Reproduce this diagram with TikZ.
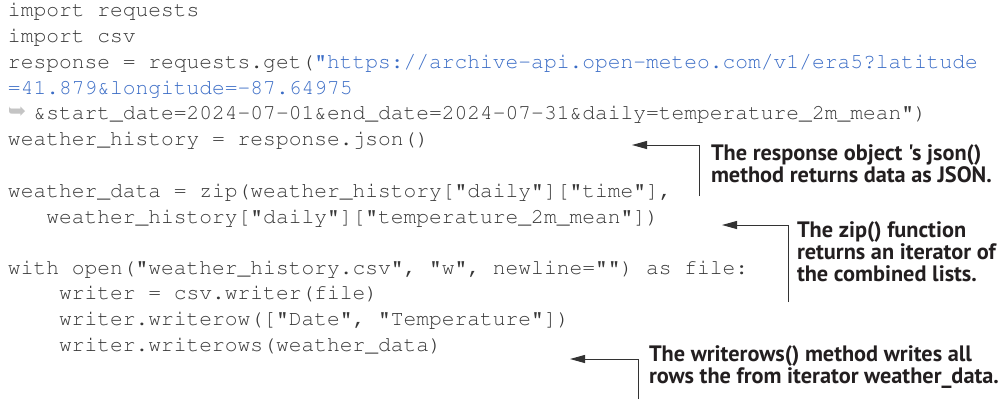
\documentclass[tikz,border=0pt]{standalone}
\usepackage[T1,TU]{fontenc}
\usepackage{fontspec}
\newfontfamily\annfont{PT Sans}
\newfontfamily\symfont{DejaVu Sans}
\usetikzlibrary{arrows.meta}
\definecolor{codegray}{HTML}{383838}
\definecolor{urlblue}{HTML}{3A6CC6}
\definecolor{anntext}{HTML}{231F20}
\definecolor{arrowgray}{HTML}{333333}
\definecolor{contgray}{HTML}{C4C4C4}
\newcommand{\codefont}{\fontencoding{T1}\fontfamily{pcr}\fontseries{m}\fontshape{n}\fontsize{21.27}{25.85}\selectfont\frenchspacing}
\tikzset{
  codeline/.style={anchor=base west, inner sep=0pt, outer sep=0pt, text=codegray, font=\codefont},
  annline/.style={anchor=base west, inner sep=0pt, outer sep=0pt, text=anntext, font=\annfont\bfseries\fontsize{22.3}{22}\selectfont},
  contmark/.style={anchor=base west, inner sep=0pt, outer sep=0pt, text=contgray, font=\symfont\fontsize{22}{22}\selectfont},
  callout/.style={draw=arrowgray, line width=1pt, -{Triangle[length=15pt,width=8pt]}}
}
\begin{document}
\begin{tikzpicture}[x=1pt,y=-1pt]
\fill[white] (0,0) rectangle (1006,413);
\useasboundingbox (0,0) rectangle (1006,413);
% code
\node[codeline] (l1) at (8,16.5) {import requests};
\node[codeline] (l2) at (8,42.35) {import csv};
\node[codeline] (l3) at (8,68.2) {response = requests.get({\color{urlblue}"https://archive-api.open-meteo.com/v1/era5?latitude}};
\node[codeline, text=urlblue] (l4) at (8,94.05) {=41.879\&longitude=-87.64975};
\node[contmark] (l5m) at (8,118.5) {➥};
\node[codeline] (l5) at ({8+2*12.762},119.9) {\&start\_date=2024-07-01\&end\_date=2024-07-31\&daily=temperature\_2m\_mean")};
\node[codeline] (l6) at (8,145.75) {weather\_history = response.json()};
\node[codeline] (l8) at (8,197.45) {weather\_data = zip(weather\_history["daily"]["time"],};
\node[codeline] (l9) at ({8+3*12.762},223.3) {weather\_history["daily"]["temperature\_2m\_mean"])};
\node[codeline] (l11) at (8,274.0) {with open("weather\_history.csv", "w", newline="") as file:};
\node[codeline] (l12) at ({8+4*12.762},299.85) {writer = csv.writer(file)};
\node[codeline] (l13) at ({8+4*12.762},325.7) {writer.writerow(["Date", "Temperature"])};
\node[codeline] (l14) at ({8+4*12.762},351.55) {writer.writerows(weather\_data)};
% annotations
\node[annline] (a1a) at (711,160.7) {The response object 's json()};
\node[annline] (a1b) at (711,182.5) {method returns data as JSON.};
\node[annline] (a2a) at (797,237) {The zip() function};
\node[annline] (a2b) at (797,259) {returns an iterator of};
\node[annline] (a2c) at (797,281) {the combined lists.};
\node[annline] (a3a) at (649,361.7) {The writerows() method writes all};
\node[annline] (a3b) at (649,383.3) {rows the from iterator weather\_data.};
% callouts
\coordinate (c1s) at (699,196);
\coordinate (c1t) at (632,145);
\coordinate (c2s) at (788,302);
\coordinate (c2t) at (722,225);
\coordinate (c3s) at (638,399);
\coordinate (c3t) at (570,359);
\draw[callout] (c1s) |- (c1t);
\draw[callout] (c2s) |- (c2t);
\draw[callout] (c3s) |- (c3t);
\end{tikzpicture}
\end{document}
